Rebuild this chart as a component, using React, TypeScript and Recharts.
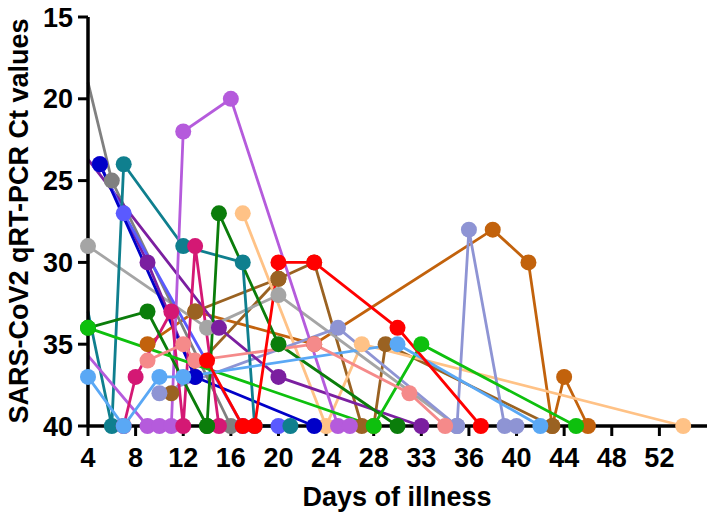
import React from "react";
import { LineChart, Line, XAxis, YAxis } from "recharts";

type P = { x: number; y: number; edge?: boolean };

// tick values and labels
const xTicks = [4, 8, 12, 16, 20, 24, 28, 32, 36, 40, 44, 48, 52];
const xTickLabels = ["4", "8", "12", "16", "20", "24", "28", "33", "36", "40", "44", "48", "52"];
const yTicks = [15, 20, 25, 30, 35, 40];

// series (day of illness, Ct value); edge = line enters from left of the axis (no marker)
const darkGray: P[] = [{ x: 4, y: 19, edge: true }, { x: 6, y: 25 }, { x: 16, y: 40 }];
const lightGray: P[] = [{ x: 4, y: 29 }, { x: 14, y: 34 }, { x: 20, y: 32 }, { x: 35, y: 40 }];
const teal: P[] = [{ x: 4, y: 33, edge: true }, { x: 6, y: 40 }, { x: 7, y: 24 }, { x: 12, y: 29 }, { x: 17, y: 30 }, { x: 18, y: 40 }, { x: 21, y: 40 }];
const periwinkle: P[] = [{ x: 5, y: 24 }, { x: 7, y: 27 }, { x: 17, y: 40 }, { x: 20, y: 40 }];
const purpleB: P[] = [{ x: 5, y: 24 }, { x: 9, y: 30 }, { x: 13, y: 37 }];
const darkBlue: P[] = [{ x: 5, y: 24 }, { x: 13, y: 37 }, { x: 23, y: 40 }];
const purpleA: P[] = [{ x: 4, y: 23.7, edge: true }, { x: 15, y: 34 }, { x: 20, y: 37 }, { x: 32, y: 40 }];
const orchidA: P[] = [{ x: 11, y: 40 }, { x: 12, y: 22 }, { x: 16, y: 20 }, { x: 25, y: 40 }, { x: 26, y: 40 }];
const orchidB: P[] = [{ x: 4, y: 35.7, edge: true }, { x: 9, y: 40 }, { x: 10, y: 40 }];
const magenta: P[] = [{ x: 7, y: 40 }, { x: 8, y: 37 }, { x: 11, y: 33 }, { x: 12, y: 40 }, { x: 13, y: 29 }, { x: 15, y: 40 }];
const darkGreenA: P[] = [{ x: 14, y: 40 }, { x: 15, y: 27 }, { x: 20, y: 35 }, { x: 30, y: 40 }];
const darkGreenB: P[] = [{ x: 4, y: 34 }, { x: 9, y: 33 }, { x: 14, y: 40 }];
const brightGreen: P[] = [{ x: 4, y: 34 }, { x: 28, y: 40 }, { x: 32, y: 35 }, { x: 45, y: 40 }];
const peach: P[] = [{ x: 17, y: 27 }, { x: 24, y: 40 }, { x: 27, y: 35 }, { x: 54, y: 40 }];
const brownA: P[] = [{ x: 13, y: 33 }, { x: 20, y: 31 }, { x: 23, y: 30 }, { x: 27, y: 40 }];
const brownB: P[] = [{ x: 11, y: 38 }, { x: 20, y: 31 }];
const brownC: P[] = [{ x: 28, y: 40 }, { x: 29, y: 35 }, { x: 43, y: 40 }];
const orange: P[] = [{ x: 9, y: 35 }, { x: 13, y: 33 }, { x: 23, y: 35 }, { x: 38, y: 28 }, { x: 41, y: 30 }, { x: 43, y: 40 }, { x: 44, y: 37 }, { x: 46, y: 40 }];
const redA: P[] = [{ x: 18, y: 40 }, { x: 20, y: 30 }, { x: 23, y: 30 }, { x: 30, y: 34 }, { x: 37, y: 40 }];
const redB: P[] = [{ x: 14, y: 36 }, { x: 17, y: 40 }];
const salmon: P[] = [{ x: 9, y: 36 }, { x: 12, y: 35 }, { x: 13, y: 36 }, { x: 23, y: 35 }, { x: 31, y: 38 }, { x: 34, y: 40 }];
const lightBlue: P[] = [{ x: 4, y: 37 }, { x: 7, y: 40 }, { x: 10, y: 37 }, { x: 12, y: 37 }, { x: 30, y: 35 }, { x: 42, y: 40 }];
const periGrayA: P[] = [{ x: 35, y: 40 }, { x: 36, y: 28 }, { x: 39, y: 40 }, { x: 40, y: 40 }];
const periGrayB: P[] = [{ x: 10, y: 38 }, { x: 25, y: 34 }, { x: 35, y: 40 }];

const seriesList: { id: string; color: string; data: P[] }[] = [
  { id: "orange", color: "#c2620c", data: orange },
  { id: "brownA", color: "#9a6222", data: brownA },
  { id: "brownB", color: "#9a6222", data: brownB },
  { id: "brownC", color: "#9a6222", data: brownC },
  { id: "peach", color: "#ffc286", data: peach },
  { id: "lightGray", color: "#a5a5a5", data: lightGray },
  { id: "periGrayB", color: "#8e94d4", data: periGrayB },
  { id: "periGrayA", color: "#8e94d4", data: periGrayA },
  { id: "darkGray", color: "#808080", data: darkGray },
  { id: "purpleB", color: "#7b1fa0", data: purpleB },
  { id: "purpleA", color: "#7b1fa0", data: purpleA },
  { id: "periwinkle", color: "#5a5aff", data: periwinkle },
  { id: "darkBlue", color: "#0000c8", data: darkBlue },
  { id: "teal", color: "#0f7f8e", data: teal },
  { id: "orchidB", color: "#b55bdc", data: orchidB },
  { id: "orchidA", color: "#b55bdc", data: orchidA },
  { id: "magenta", color: "#d41874", data: magenta },
  { id: "darkGreenB", color: "#0b7d0b", data: darkGreenB },
  { id: "darkGreenA", color: "#0b7d0b", data: darkGreenA },
  { id: "brightGreen", color: "#0ec00e", data: brightGreen },
  { id: "lightBlue", color: "#5aa8f5", data: lightBlue },
  { id: "salmon", color: "#f58a8a", data: salmon },
  { id: "redB", color: "#ff0000", data: redB },
  { id: "redA", color: "#ff0000", data: redA },
];

const FONT = "'Liberation Sans', Arial, Helvetica, sans-serif";

const makeDot = (color: string) => (props: any) => {
  const { cx, cy, payload, index } = props;
  if (!payload || payload.edge || cx == null || cy == null) return <g key={`e-${index}`} />;
  return <circle key={`d-${index}`} cx={cx} cy={cy} r={8} fill={color} stroke="none" />;
};

const YLabel = () => (
  <text
    x={19}
    y={221}
    transform="rotate(-90 19 221)"
    textAnchor="middle"
    dominantBaseline="central"
    fontFamily={FONT}
    fontWeight={700}
    fontSize={27}
    fill="#000"
  >
    SARS-CoV2 qRT-PCR Ct values
  </text>
);

const XLabel = () => (
  <text x={397} y={506} textAnchor="middle" fontFamily={FONT} fontWeight={700} fontSize={27} fill="#000">
    Days of illness
  </text>
);

export default function App() {
  return (
    <div style={{ position: "absolute", left: 0, top: 0, width: 710, height: 525, background: "#fff" }}>
      <LineChart width={710} height={525} margin={{ top: 17, right: 3, bottom: 0, left: 0 }}>
        <XAxis
          type="number"
          dataKey="x"
          domain={[4, 56]}
          ticks={xTicks}
          interval={0}
          tickFormatter={(v: number, i: number) => xTickLabels[i] ?? String(v)}
          height={99}
          tickSize={10}
          tickMargin={12}
          axisLine={{ stroke: "#000", strokeWidth: 3.5 }}
          tickLine={{ stroke: "#000", strokeWidth: 3 }}
          tick={{ fill: "#000", fontSize: 27, fontWeight: 700, fontFamily: FONT }}
          label={{ content: () => <XLabel /> }}
        />
        <YAxis
          type="number"
          domain={[15, 40]}
          ticks={yTicks}
          reversed
          interval={0}
          width={88}
          tickSize={10}
          tickMargin={5}
          axisLine={{ stroke: "#000", strokeWidth: 3.5 }}
          tickLine={{ stroke: "#000", strokeWidth: 3 }}
          tick={{ fill: "#000", fontSize: 27, fontWeight: 700, fontFamily: FONT }}
          label={{ content: () => <YLabel /> }}
        />
        {seriesList.map((s) => (
          <Line
            key={s.id}
            data={s.data}
            dataKey="y"
            type="linear"
            stroke={s.color}
            strokeWidth={2.8}
            dot={makeDot(s.color)}
            activeDot={false}
            isAnimationActive={false}
            legendType="none"
          />
        ))}
      </LineChart>
    </div>
  );
}
